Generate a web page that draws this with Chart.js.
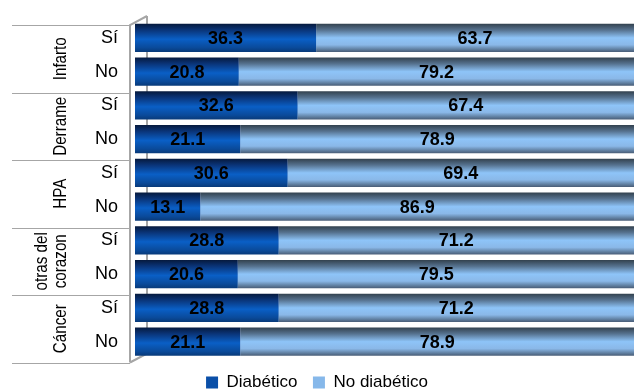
<!DOCTYPE html>
<html>
<head>
<meta charset="utf-8">
<script src="https://cdn.jsdelivr.net/npm/chart.js@4/dist/chart.umd.min.js"></script>
<style>
  html, body { margin: 0; padding: 0; background: #fff; }
  #wrap { width: 635px; height: 390px; }
</style>
</head>
<body>
<div id="wrap"><canvas id="chart"></canvas></div>
<script>
// rows: Sí / No for each condition
const rowLabels = ['Sí', 'No', 'Sí', 'No', 'Sí', 'No', 'Sí', 'No', 'Sí', 'No'];
const groups = [['Infarto'], ['Derrame'], ['HPA'], ['otras del', 'corazon'], ['Cáncer']];
const diabetico = [36.3, 20.8, 32.6, 21.1, 30.6, 13.1, 28.8, 20.6, 28.8, 21.1];
const noDiabetico = [63.7, 79.2, 67.4, 78.9, 69.4, 86.9, 71.2, 79.5, 71.2, 78.9];

const CAT_PCT = 0.83;
const darkStops = [[0, '#061a3e'], [0.22, '#0a3478'], [0.55, '#0a5fc6'], [0.85, '#0a4a9a'], [1, '#083a7a']];
const lightStops = [[0, '#33424f'], [0.22, '#56728f'], [0.5, '#8ec4f8'], [0.75, '#8ab8e8'], [0.9, '#6282a4'], [1, '#4a5e78']];

// vertical gradient for one bar, built from the y scale
const barFill = function (stops, solid) {
    return function (ctx) {
        const y = ctx.chart.scales.y;
        if (ctx.type !== 'data' || !y) return solid;
        const c = y.getPixelForValue(ctx.dataIndex);
        const half = (y.height / rowLabels.length) * CAT_PCT / 2;
        if (!isFinite(c) || !isFinite(half) || half <= 0) return solid;
        const g = ctx.chart.ctx.createLinearGradient(0, c - half, 0, c + half);
        for (const s of stops) g.addColorStop(s[0], s[1]);
        return g;
    };
};

// left wall, group separators and group names
const sidePlugin = {
    id: 'side',
    beforeDatasetsDraw(chart) {
        const c = chart.ctx;
        const area = chart.chartArea;
        const x0 = area.left - 5, x1 = area.left + 12;
        const top = area.top + 4, bot = area.bottom + 4;
        c.save();
        c.strokeStyle = '#a6a6a6';
        c.lineWidth = 2;
        c.beginPath();
        c.moveTo(x1, top - 9); c.lineTo(x1, bot - 9);
        c.stroke();
        c.beginPath();
        c.moveTo(x0, bot); c.lineTo(x0, top); c.lineTo(x1, top - 9);
        c.moveTo(x0, bot); c.lineTo(x1, bot - 9);
        c.stroke();
        c.restore();
    },
    afterDraw(chart) {
        const c = chart.ctx;
        const area = chart.chartArea;
        const y = chart.scales.y;
        const step = y.height / rowLabels.length;
        c.save();
        c.strokeStyle = '#a6a6a6';
        c.lineWidth = 1;
        for (let i = 0; i <= groups.length; i++) {
            const yy = Math.round(area.top + i * 2 * step + 4) + 0.5;
            c.beginPath();
            c.moveTo(12, yy); c.lineTo(area.left - 5, yy);
            c.stroke();
        }
        c.fillStyle = '#000';
        c.font = '19px "Liberation Sans", Arial, sans-serif';
        c.textAlign = 'center';
        c.textBaseline = 'middle';
        groups.forEach(function (lines, i) {
            const cy = area.top + (i * 2 + 1) * step + 4;
            lines.forEach(function (txt, j) {
                const cx = 61 - (lines.length - 1 - j) * 19;
                c.save();
                c.translate(cx, cy);
                c.rotate(-Math.PI / 2);
                c.scale(0.8, 1);
                c.fillText(txt, 0, 0);
                c.restore();
            });
        });
        c.restore();
    }
};

// value labels in the middle of each segment
const valuePlugin = {
    id: 'values',
    afterDatasetsDraw(chart) {
        const c = chart.ctx;
        c.save();
        c.fillStyle = '#000';
        c.font = 'bold 18px "Liberation Sans", Arial, sans-serif';
        c.textAlign = 'center';
        c.textBaseline = 'middle';
        chart.data.datasets.forEach(function (ds, di) {
            chart.getDatasetMeta(di).data.forEach(function (bar, i) {
                c.fillText(ds.data[i].toFixed(1), (bar.x + bar.base) / 2, bar.y + 1);
            });
        });
        c.restore();
    }
};

const legendColors = ['#0a4fa8', '#86b8ea'];

new Chart(document.getElementById('chart'), {
    type: 'bar',
    data: {
        labels: rowLabels,
        datasets: [
            {
                label: 'Diabético',
                data: diabetico,
                backgroundColor: barFill(darkStops, '#0a56b0'),
                borderWidth: 0,
                categoryPercentage: CAT_PCT,
                barPercentage: 1,
            },
            {
                label: 'No diabético',
                data: noDiabetico,
                backgroundColor: barFill(lightStops, '#7aa8d8'),
                borderWidth: 0,
                categoryPercentage: CAT_PCT,
                barPercentage: 1,
            },
        ],
    },
    options: {
        indexAxis: 'y',
        responsive: true,
        maintainAspectRatio: false,
        animation: false,
        layout: { padding: { top: 21, right: 1, left: 0, bottom: -11 } },
        scales: {
            x: { stacked: true, min: 0, max: 100, display: false },
            y: {
                stacked: true,
                grid: { display: true, color: 'rgba(0,0,0,0)', drawOnChartArea: false, drawTicks: true, tickLength: 17 },
                border: { display: false },
                ticks: {
                    color: '#000',
                    padding: 0,
                    font: { size: 18, family: '"Liberation Sans", Arial, sans-serif' },
                },
                afterFit(scale) { scale.width = 135; },
            },
        },
        plugins: {
            legend: {
                position: 'bottom',
                labels: {
                    boxWidth: 12,
                    boxHeight: 12,
                    padding: 15.5,
                    color: '#000',
                    font: { size: 17, family: '"Liberation Sans", Arial, sans-serif' },
                    generateLabels(chart) {
                        const items = Chart.defaults.plugins.legend.labels.generateLabels(chart);
                        items.forEach(function (it, i) {
                            it.fillStyle = legendColors[i];
                            it.lineWidth = 0;
                        });
                        return items;
                    },
                },
            },
            tooltip: { enabled: false },
        },
    },
    plugins: [sidePlugin, valuePlugin],
});
</script>
</body>
</html>
